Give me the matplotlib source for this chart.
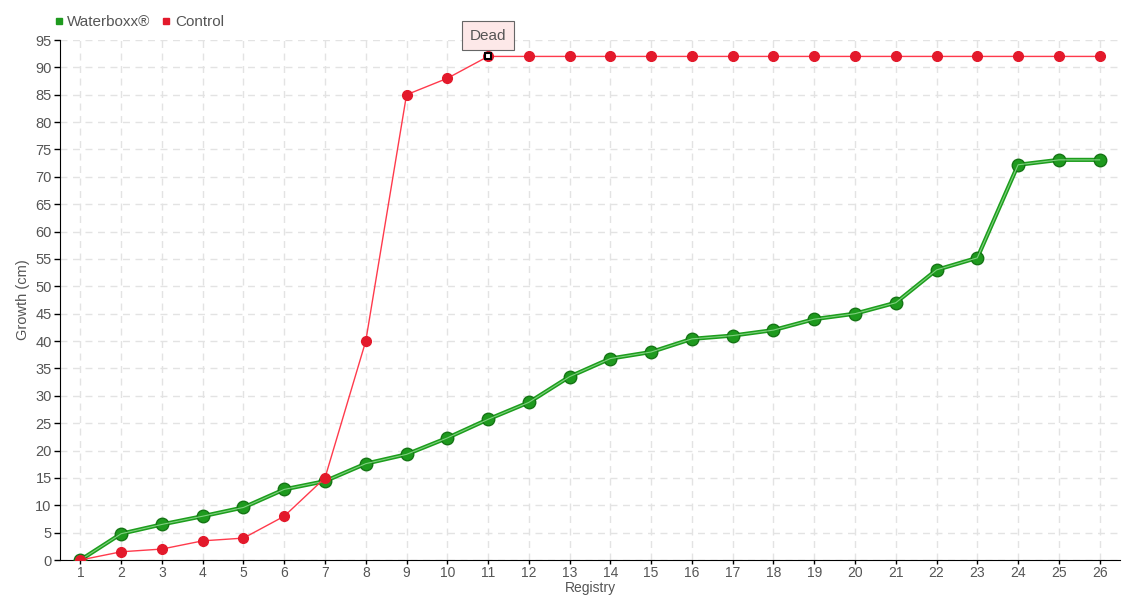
import matplotlib
matplotlib.use('Agg')
import matplotlib.pyplot as plt

# data
registry = list(range(1, 27))
waterboxx = [0, 4.8, 6.5, 8, 9.6, 12.9, 14.4, 17.6, 19.3, 22.3, 25.7, 28.8, 33.5,
             36.8, 38, 40.4, 41, 42, 44, 45, 47, 53, 55.2, 72.2, 73.1, 73.1]
control = [0, 1.5, 2, 3.5, 4, 8, 15, 40, 85, 88, 92, 92, 92, 92, 92, 92, 92, 92,
           92, 92, 92, 92, 92, 92, 92, 92]
dead_idx = 10

plt.rcParams['font.family'] = ['Liberation Sans', 'DejaVu Sans']
txt = '#555555'

fig = plt.figure(figsize=(11.4, 6.0), dpi=100)
ax = fig.add_axes([60/1140, 40/600, 1060/1140, 520/600])

ax.plot(registry, waterboxx, color='#1d9e1d', lw=3, marker='o', ms=9,
        mfc='#1e9a1e', mec='#157515', mew=1, zorder=3, label='Waterboxx®')
ax.plot(registry, waterboxx, color='#7fd07f', lw=0.8, zorder=3.5)
ax.plot(registry, control, color='#ff3a4c', lw=1, marker='o', ms=7,
        mfc='#e3192b', mec='#e3192b', zorder=4, label='Control')
ax.plot(registry[dead_idx], control[dead_idx], marker='s', ms=5, mfc='white',
        mec='black', mew=1.5, zorder=5)
ax.annotate('Dead', (registry[dead_idx], control[dead_idx]), xytext=(0, 15),
            textcoords='offset points', ha='center', va='center', fontsize=11,
            color=txt, bbox=dict(boxstyle='square,pad=0.5', fc='#fde8e8', ec='#666666', lw=0.8),
            zorder=6)

ax.set_xlim(0.5, 26.5)
ax.set_ylim(0, 95)
ax.set_xticks(registry)
ax.set_yticks(range(0, 96, 5))
ax.grid(True, color='#e3e3e3', ls=(0, (5, 4)), lw=1)
ax.set_axisbelow(True)
for s in ['top', 'right']:
    ax.spines[s].set_visible(False)
ax.tick_params(colors=txt, labelsize=10.5, length=4, width=1, pad=2)
ax.tick_params(axis='x', labelsize=10, length=3, pad=1)
ax.tick_params(axis='both', color='black')
fig.text(590/1140, 1 - 581/600, 'Registry', color=txt, fontsize=10,
         ha='center', va='top')
ax.set_ylabel('Growth (cm)', color=txt, fontsize=10.5, labelpad=4)

leg = ax.legend(loc='lower left', bbox_to_anchor=(-0.015, 1.0), ncol=2, frameon=False,
                fontsize=11, handlelength=0.5, handletextpad=0.3, columnspacing=0.8,
                borderaxespad=0.3)
for h, c in zip(leg.legend_handles, ['#1e9a1e', '#e3192b']):
    h.set_marker('s')
    h.set_linestyle('')
    h.set_markersize(5)
    h.set_markerfacecolor(c)
    h.set_markeredgecolor(c)
for t in leg.get_texts():
    t.set_color(txt)

fig.savefig('out.png', dpi=100)
